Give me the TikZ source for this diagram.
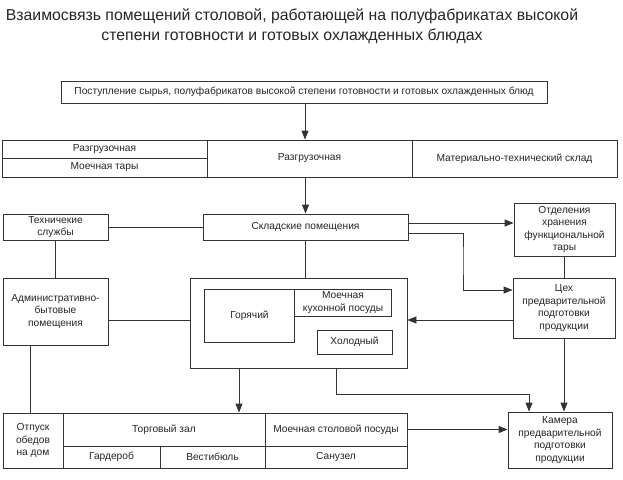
\documentclass[tikz,border=0pt]{standalone}
\usepackage{fontspec}
\setsansfont{Liberation Sans}
\usetikzlibrary{positioning,arrows.meta,calc}

\begin{document}
\begin{tikzpicture}[
    x=1pt, y=-1pt,
    every node/.style={inner sep=0pt, align=center, text=black!85, font=\sffamily\fontsize{10.2}{12.5}\selectfont},
    box/.style={draw=black!80, line width=0.8pt, fill=white},
    title/.style={font=\sffamily\fontsize{15.8}{20}\selectfont},
    link/.style={draw=black!80, line width=0.8pt},
    arr/.style={link, -{Triangle[length=9pt,width=7pt]}}
]
\useasboundingbox[fill=white] (0,0) rectangle (623,479);

\node[title] (head) at (292,26) {Взаимосвязь помещений столовой, работающей на полуфабрикатах высокой\\степени готовности и готовых охлажденных блюдах};

% supply and unloading
\node[box, minimum width=486pt, minimum height=22pt] (src) at (304,92) {Поступление сырья, полуфабрикатов высокой степени готовности и готовых охлажденных блюд};
\node[box, minimum width=205pt, minimum height=18pt] (razgrA) at (104.5,149) {Разгрузочная};
\node[box, minimum width=205pt, minimum height=19pt] (taraW) at (104.5,167.5) {Моечная тары};
\node[box, minimum width=205pt, minimum height=37pt] (razgr) at (309.5,158.5) {Разгрузочная};
\node[box, minimum width=205pt, minimum height=37pt] (mtsklad) at (514.5,158.5) {Материально-технический склад};

% storage level
\node[box, minimum width=205pt, minimum height=26pt] (sklad) at (305.5,227) {Складские помещения};
\node[box, minimum width=105pt, minimum height=26pt] (tech) at (55.5,227) {Техничекие\\службы};
\node[box, minimum width=101pt, minimum height=53pt] (otdel) at (564.5,229.5) {Отделения\\хранения\\функциональной\\тары};

% production level
\node[box, minimum width=105pt, minimum height=67pt] (admin) at (55.5,311.5) {Административно-\\бытовые\\помещения};
\node[box, minimum width=217pt, minimum height=90pt] (kitchen) at (298.5,323) {};
\node[box, minimum width=90pt, minimum height=53pt] (hot) at (249.5,315.5) {Горячий};
\node[box, minimum width=97pt, minimum height=27pt] (washK) at (343,302.5) {Моечная\\кухонной посуды};
\node[box, minimum width=75pt, minimum height=24pt] (cold) at (354.5,342) {Холодный};
\node[box, minimum width=102pt, minimum height=60pt] (ceh) at (564,308) {Цех\\предварительной\\подготовки\\продукции};

% hall level
\node[box, minimum width=60pt, minimum height=55pt] (otpusk) at (33,440.5) {Отпуск\\обедов\\на дом};
\node[box, minimum width=202pt, minimum height=33pt] (hall) at (164,429.5) {Торговый зал};
\node[box, minimum width=97pt, minimum height=22pt] (garderob) at (111.5,457) {Гардероб};
\node[box, minimum width=105pt, minimum height=22pt] (vestib) at (212.5,457) {Вестибюль};
\node[box, minimum width=142pt, minimum height=33pt] (washT) at (336,429.5) {Моечная столовой посуды};
\node[box, minimum width=142pt, minimum height=22pt] (wc) at (336,457) {Санузел};
\node[box, minimum width=104pt, minimum height=56pt] (kamera) at (560,440) {Камера\\предварительной\\подготовки\\продукции};

\coordinate (turnA) at (463,260);
\coordinate (turnB) at (529,394);

% connectors
\draw[arr] ([xshift=1pt]src.south) -- ([xshift=1pt]src.south |- razgr.north);
\draw[arr] (sklad.north |- razgr.south) -- (sklad.north);
\draw[link] (tech.east) -- (sklad.west);
\draw[arr] ([yshift=4pt]sklad.east) -- ([yshift=4pt]sklad.east -| otdel.west);
\draw[arr] ([yshift=-6pt]sklad.east) -| (turnA) |- ([yshift=18pt]ceh.west);
\draw[link] (otdel.south) -- (otdel.south |- ceh.north);
\draw[arr] ([yshift=-12pt]ceh.west) -- ([yshift=-12pt]ceh.west -| kitchen.east);
\draw[link] (sklad.south) -- (sklad.south |- kitchen.north);
\draw[link] (tech.south) -- (admin.north);
\draw[link] ([yshift=-8.5pt]admin.east) -- ([yshift=-8.5pt]admin.east -| kitchen.west);
\draw[link] ([xshift=-25.5pt]admin.south) -- ([xshift=-25.5pt]admin.south |- otpusk.north);
\draw[arr] ([xshift=-59.5pt]kitchen.south) -- ([xshift=-59.5pt]kitchen.south |- hall.north);
\draw[arr] ([xshift=37.5pt]kitchen.south) |- (turnB) -- (turnB |- kamera.north);
\draw[arr] (ceh.south) -- (ceh.south |- kamera.north);
\draw[arr] (washT.east) -- (washT.east -| kamera.west);
\end{tikzpicture}
\end{document}
